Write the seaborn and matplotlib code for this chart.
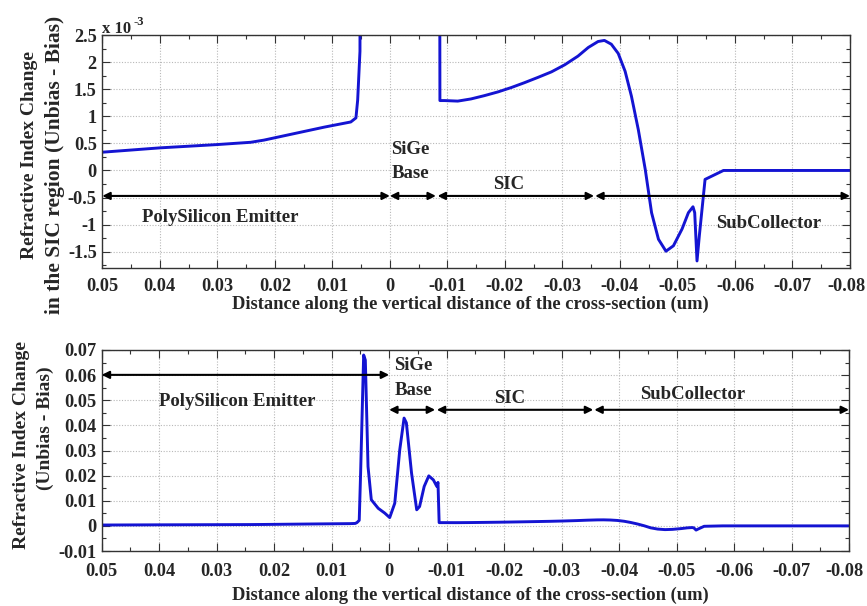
import numpy as np
import pandas as pd
import matplotlib
matplotlib.use("Agg")
import matplotlib.pyplot as plt
import matplotlib.transforms as mtransforms
import seaborn as sns
from matplotlib.ticker import MultipleLocator

# ---- data (distance in um, refractive index change in units of 1e-3) ----
distance = [0.05, 0.04, 0.03, 0.0242, 0.0219, 0.0184, 0.0149, 0.0114, 0.0068,
            0.0059, 0.0056, 0.0052, 0.00496, 0.00443, 0.00414, 0.00367, 0.0031,
            0.0019, 0.00077, -0.0001, -0.00098, -0.00185, -0.0026, -0.0030,
            -0.0039, -0.0048, -0.0053, -0.0061, -0.0069, -0.0077, -0.0083,
            -0.0085, -0.0087, -0.0095, -0.0118, -0.0141, -0.0164, -0.0188,
            -0.0211, -0.0234, -0.0258, -0.0281, -0.0304, -0.0327, -0.0345,
            -0.0362, -0.0373, -0.0385, -0.0397, -0.0409, -0.0420, -0.0432,
            -0.0444, -0.0455, -0.0467, -0.0480, -0.0493, -0.0508, -0.0519,
            -0.0527, -0.0530, -0.0534, -0.0538, -0.0548, -0.0580, -0.08]
delta_n_e3 = [0.337, 0.417, 0.478, 0.52, 0.56, 0.64, 0.72, 0.80, 0.895,
              0.97, 1.3, 2.2, 21.0, 68.0, 66.0, 23.6, 10.4,
              7.0, 5.1, 3.3, 9.0, 30.3, 42.9, 41.0,
              21.0, 6.4, 7.7, 15.7, 19.9, 18.3, 15.7,
              17.3, 1.29, 1.29, 1.28, 1.32, 1.38, 1.45,
              1.53, 1.62, 1.72, 1.82, 1.95, 2.11, 2.27,
              2.38, 2.40, 2.33, 2.16, 1.83, 1.37, 0.75,
              0.02, -0.78, -1.27, -1.49, -1.39, -1.08, -0.78,
              -0.67, -0.78, -1.67, -1.21, -0.165, 0.0, 0.0]

xticks = [0.05, 0.04, 0.03, 0.02, 0.01, 0.0, -0.01, -0.02, -0.03, -0.04,
          -0.05, -0.06, -0.07, -0.08]
xtick_labels = ["0.05", "0.04", "0.03", "0.02", "0.01", "0", "-0.01", "-0.02",
                "-0.03", "-0.04", "-0.05", "-0.06", "-0.07", "-0.08"]
top_yticks = [2.5, 2, 1.5, 1, 0.5, 0, -0.5, -1, -1.5]
top_ytick_labels = ["2.5", "2", "1.5", "1", "0.5", "0", "-0.5", "-1", "-1.5"]
bot_yticks = [0.07, 0.06, 0.05, 0.04, 0.03, 0.02, 0.01, 0.0, -0.01]
bot_ytick_labels = ["0.07", "0.06", "0.05", "0.04", "0.03", "0.02", "0.01", "0", "-0.01"]

region_names = ["PolySilicon Emitter", "SiGe\nBase", "SIC", "SubCollector"]
region_start = [0.05, 0.0, -0.0083, -0.0357]
region_end = [0.0, -0.0080, -0.0355, -0.08]

xlabel = "Distance along the vertical distance of the cross-section (um)"
top_ylabel = ["Refractive Index Change", "in the SIC region (Unbias - Bias)"]
bot_ylabel = ["Refractive Index Change", "(Unbias - Bias)"]

# ---- style ----
sns.set_style("white")
plt.rcParams["font.family"] = ["Liberation Serif", "DejaVu Serif"]
plt.rcParams["font.weight"] = "bold"
plt.rcParams["axes.labelweight"] = "bold"

df = pd.DataFrame({"d": distance, "v_e3": delta_n_e3})
df["v"] = df["v_e3"] * 1e-3

W, H = 867, 606
fig = plt.figure(figsize=(W / 100, H / 100), dpi=100)
ax1 = fig.add_axes([102.3 / W, 1 - 268 / H, (850 - 102.3) / W, (268 - 35) / H])
ax2 = fig.add_axes([101.7 / W, 1 - 551 / H, (849 - 101.7) / W, (551 - 350) / H])

line_color = "#1414d2"
sns.lineplot(data=df, x="d", y="v_e3", ax=ax1, sort=False, estimator=None,
             color=line_color, lw=2.1)
sns.lineplot(data=df, x="d", y="v", ax=ax2, sort=False, estimator=None,
             color=line_color, lw=2.1)

TICK_FS = 13.2
shift_left = mtransforms.ScaledTranslation(-4 / 100, 0, fig.dpi_scale_trans)
for ax, yt, ytl, ylim, yminor, xpad in [
        (ax1, top_yticks, top_ytick_labels, (-1.8, 2.5), 0.25, 7.0),
        (ax2, bot_yticks, bot_ytick_labels, (-0.01, 0.07), 0.005, 8.5)]:
    ax.set_xlim(0.05, -0.08)
    ax.set_ylim(*ylim)
    ax.set_xticks(xticks)
    ax.set_xticklabels(xtick_labels, fontsize=TICK_FS, fontweight="bold")
    ax.set_yticks(yt)
    ax.set_yticklabels(ytl, fontsize=TICK_FS, fontweight="bold")
    ax.xaxis.set_minor_locator(MultipleLocator(0.005))
    ax.yaxis.set_minor_locator(MultipleLocator(yminor))
    ax.tick_params(which="both", direction="in", top=True, right=True,
                   bottom=True, left=True, color="#333333")
    ax.tick_params(which="major", length=6, width=0.8)
    ax.tick_params(axis="y", which="major", pad=4)
    ax.tick_params(axis="x", which="major", pad=xpad)
    ax.tick_params(which="minor", length=3, width=0.8)
    ax.grid(True, which="major", linestyle=(0, (1, 1.5)), color="#b8b8b8", lw=0.8)
    for s in ax.spines.values():
        s.set_color("#333333")
        s.set_linewidth(1.0)
    ax.set_xlabel(xlabel, fontsize=13.3, fontweight="bold")
    ax.set_ylabel("")
    last = ax.get_xticklabels()[-1]
    last.set_transform(last.get_transform() + shift_left)

ax1.xaxis.set_label_coords((470 - 102.3) / 747.7, (268 - 296) / 233)
ax2.xaxis.set_label_coords((470 - 101.7) / 747.3, (551 - 587) / 201)

# region arrows
arrow_kw = dict(arrowstyle="<|-|>", color="black", lw=1.5, mutation_scale=11,
                shrinkA=0, shrinkB=0)
for s, e in zip(region_start, region_end):
    ax1.annotate("", xy=(e, -0.47), xytext=(s, -0.47), arrowprops=arrow_kw)
for i, (s, e) in enumerate(zip(region_start, region_end)):
    y = 0.0601 if i == 0 else 0.0462
    ax2.annotate("", xy=(e, y), xytext=(s, y), arrowprops=arrow_kw)

TFS = 13.5
ax1.text(0.0295, -0.87, region_names[0], ha="center", va="center", fontsize=TFS, fontweight="bold")
ax1.text(-0.0036, 0.17, region_names[1], ha="center", va="center", fontsize=TFS,
         fontweight="bold", linespacing=1.5)
ax1.text(-0.0206, -0.26, region_names[2], ha="center", va="center", fontsize=TFS, fontweight="bold")
ax1.text(-0.0658, -0.97, region_names[3], ha="center", va="center", fontsize=TFS, fontweight="bold")

ax2.text(0.0264, 0.0495, region_names[0], ha="center", va="center", fontsize=TFS, fontweight="bold")
ax2.text(-0.0042, 0.0587, region_names[1], ha="center", va="center", fontsize=TFS,
         fontweight="bold", linespacing=1.6)
ax2.text(-0.021, 0.0508, region_names[2], ha="center", va="center", fontsize=TFS, fontweight="bold")
ax2.text(-0.0528, 0.0522, region_names[3], ha="center", va="center", fontsize=TFS, fontweight="bold")

# multiplier label
fig.text(102 / W, 1 - 33 / H, "x 10", fontsize=12, fontweight="bold", va="baseline")
fig.text(133 / W, 1 - 25 / H, "-3", fontsize=9, fontweight="bold", va="baseline")

# y labels
fig.text(30 / W, 1 - 155 / H, top_ylabel[0], rotation=90, ha="center", va="center",
         fontsize=14, fontweight="bold")
fig.text(55 / W, 1 - 165 / H, top_ylabel[1], rotation=90, ha="center", va="center",
         fontsize=15.5, fontweight="bold")
fig.text(22 / W, 1 - 445 / H, bot_ylabel[0], rotation=90, ha="center", va="center",
         fontsize=14, fontweight="bold")
fig.text(45 / W, 1 - 428 / H, bot_ylabel[1], rotation=90, ha="center", va="center",
         fontsize=14, fontweight="bold")

fig.savefig("out.png", dpi=100)
